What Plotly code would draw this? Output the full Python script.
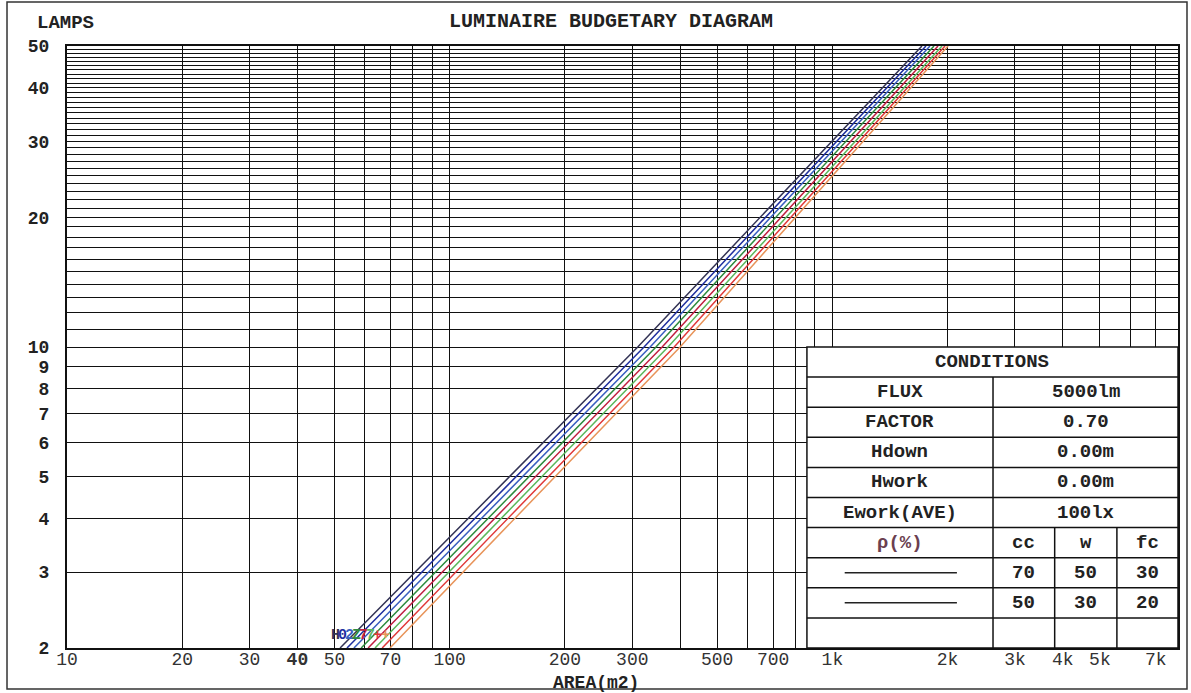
import math
import plotly.graph_objects as go

# ---------------- data ----------------
lamp_levels = [2, 10, 50]
series_labels = ["H", "0", "2", "Z", "7", "7", "+", "+"]
series_colors = ["#333355", "#1f2f9f", "#3a5fc0", "#2e8b3e", "#c02040", "#5cb85c", "#e03a3a", "#e8945a"]
area_s1 = [51.7, 310, 1714]
area_s2 = [53.9, 322, 1756]
area_s3 = [56.2, 334, 1799]
area_s4 = [58.7, 346, 1843]
area_s5 = [61.2, 359, 1888]
area_s6 = [63.8, 372, 1934]
area_s7 = [66.6, 386, 1969]
area_s8 = [69.8, 400, 2005]
series_areas = [area_s1, area_s2, area_s3, area_s4, area_s5, area_s6, area_s7, area_s8]

x_grid = [10, 20, 30, 40, 50, 60, 70, 80, 90,
          100, 200, 300, 400, 500, 600, 700, 800, 900,
          1000, 2000, 3000, 4000, 5000, 6000, 7000, 8000]
x_labels = {10: "10", 20: "20", 30: "30", 40: "<b>40</b>", 50: "50", 70: "70",
            100: "100", 200: "200", 300: "300", 500: "500", 700: "700",
            1000: "1k", 2000: "2k", 3000: "3k", 4000: "4k", 5000: "5k", 7000: "7k"}
y_grid = list(range(2, 51))
y_labels = [2, 3, 4, 5, 6, 7, 8, 9, 10, 20, 30, 40, 50]
x_min, x_max = 10, 8000
y_min, y_max = 2, 50

cond_names = ["FLUX", "FACTOR", "Hdown", "Hwork", "Ework(AVE)"]
cond_values = ["5000lm", "0.70", "0.00m", "0.00m", "100lx"]
rho_header = ["cc", "w", "fc"]
rho_rows = [["70", "50", "30"], ["50", "30", "20"]]

FONT = "Liberation Mono"

fig = go.Figure()
for i, (lab, col, ar) in enumerate(zip(series_labels, series_colors, series_areas)):
    fig.add_trace(go.Scatter(x=ar, y=lamp_levels, mode="lines",
                             line=dict(color=col, width=1.5), showlegend=False,
                             hoverinfo="skip"))
    # annotations on log axes are positioned in log10 units
    fig.add_annotation(x=math.log10(ar[0]), y=math.log10(lamp_levels[0]) + 0.004,
                       xref="x", yref="y",
                       text="<b>" + lab + "</b>", showarrow=False,
                       xanchor="right", yanchor="bottom", xshift=2, yshift=0,
                       font=dict(family=FONT, size=15, color=col))

fig.update_xaxes(type="log", range=[math.log10(x_min), math.log10(x_max)], tickmode="array",
                 tickvals=x_grid, ticktext=[x_labels.get(v, "") for v in x_grid],
                 showgrid=True, gridcolor="#111", gridwidth=1.4,
                 showline=True, mirror=True, linecolor="#111", linewidth=2,
                 ticks="", ticklabelstandoff=-7,
                 tickfont=dict(family=FONT, size=18, color="#333"),
                 zeroline=False)
fig.update_yaxes(type="log", range=[math.log10(y_min), math.log10(y_max)], tickmode="array",
                 tickvals=y_grid,
                 ticktext=[("<b>%d</b>" % v) if v in y_labels else "" for v in y_grid],
                 showgrid=True, gridcolor="#111", gridwidth=1.4,
                 showline=True, mirror=True, linecolor="#111", linewidth=2,
                 ticks="", ticklabelstandoff=12,
                 tickfont=dict(family=FONT, size=18, color="#222"),
                 zeroline=False)

shapes = []
# outer frame
shapes.append(dict(type="rect", xref="paper", yref="paper", x0=-0.054, x1=1.0081,
                   y0=-0.068, y1=1.073, line=dict(color="#333", width=1.5), layer="below"))

# conditions table (in axis-domain units)
TL, TR = 0.666, 1.0
C1, C2, C3 = 0.8335, 0.889, 0.945
TB, TT = 0.0, 0.5
nrows = 10
rh = (TT - TB) / nrows
BLK = dict(color="#111", width=1.5)
shapes.append(dict(type="rect", xref="x domain", yref="y domain", x0=TL, x1=TR,
                   y0=TB, y1=TT, fillcolor="white", line=BLK, layer="above"))
for i in range(1, nrows):
    yy = TT - i * rh
    shapes.append(dict(type="line", xref="x domain", yref="y domain", x0=TL, x1=TR,
                       y0=yy, y1=yy, line=BLK))
shapes.append(dict(type="line", xref="x domain", yref="y domain", x0=C1, x1=C1,
                   y0=TB, y1=TT - rh, line=BLK))
for cx in (C2, C3):
    shapes.append(dict(type="line", xref="x domain", yref="y domain", x0=cx, x1=cx,
                       y0=TB, y1=TT - 6 * rh, line=BLK))
# legend sample lines
for k in range(2):
    yy = TT - (7.5 + k) * rh
    shapes.append(dict(type="line", xref="x domain", yref="y domain", x0=0.700, x1=0.801,
                       y0=yy, y1=yy, line=dict(color="#222", width=1.5)))
fig.update_layout(shapes=shapes)

def tab_text(x, row, txt, color="#222"):
    fig.add_annotation(x=x, y=TT - (row + 0.5) * rh, xref="x domain", yref="y domain",
                       text="<b>" + txt + "</b>", showarrow=False,
                       xanchor="center", yanchor="middle",
                       font=dict(family=FONT, size=19, color=color))

tab_text((TL + TR) / 2, 0, "CONDITIONS")
for i, (n, v) in enumerate(zip(cond_names, cond_values)):
    tab_text((TL + C1) / 2, i + 1, n)
    tab_text((C1 + TR) / 2, i + 1, v)
tab_text((TL + C1) / 2, 6, "ρ(%)", color="#6b3f50")
cols_mid = [(C1 + C2) / 2, (C2 + C3) / 2, (C3 + TR) / 2]
for cx, h in zip(cols_mid, rho_header):
    tab_text(cx, 6, h)
for r, vals in enumerate(rho_rows):
    for cx, v in zip(cols_mid, vals):
        tab_text(cx, 7 + r, v)

# titles
fig.add_annotation(x=-0.0288, y=1.038, xref="paper", yref="paper", text="<b>LAMPS</b>",
                   showarrow=False, xanchor="left", yanchor="middle",
                   font=dict(family=FONT, size=19, color="#222"))
fig.add_annotation(x=0.4897, y=1.040, xref="paper", yref="paper",
                   text="<b>LUMINAIRE BUDGETARY DIAGRAM</b>",
                   showarrow=False, xanchor="center", yanchor="middle",
                   font=dict(family=FONT, size=20, color="#222"))
fig.add_annotation(x=0.476, y=-0.058, xref="paper", yref="paper", text="<b>AREA(m2)</b>",
                   showarrow=False, xanchor="center", yanchor="middle",
                   font=dict(family=FONT, size=18, color="#222"))

fig.update_layout(width=1191, height=693, margin=dict(l=67, r=13, t=46, b=45),
                  paper_bgcolor="white", plot_bgcolor="white", showlegend=False)

fig.write_html("out.html", config={"displayModeBar": False},
               post_script="document.body.style.margin='0';document.body.style.overflow='hidden';")
